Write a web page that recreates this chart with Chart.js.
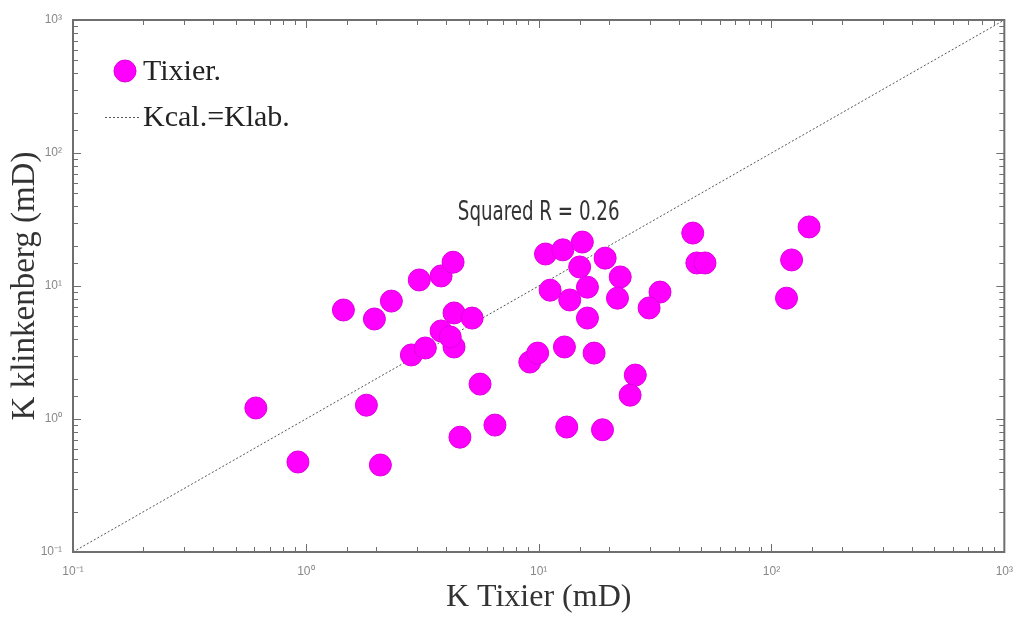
<!DOCTYPE html>
<html>
<head>
<meta charset="utf-8">
<script src="https://cdn.jsdelivr.net/npm/chart.js"></script>
<style>
  html, body { margin: 0; background: #fff; }
  #wrap { width: 1017px; height: 619px; }
</style>
</head>
<body>
<div id="wrap"><canvas id="scatter"></canvas></div>
<script>
// values (mD)
var kTixier = [1.45, 1.97, 2.33, 3.07, 3.81, 4.29, 2.84, 3.26, 3.81, 4.33, 5.18, 4.33, 4.17,
  0.61, 1.82, 0.925, 2.09, 5.6, 4.59, 6.49, 9.16, 9.9, 10.7, 11.2, 12.7, 15.4, 15.0, 19.3,
  22.4, 13.6, 16.2, 21.8, 16.2, 33.2, 29.8, 12.9, 17.3, 26.0, 24.7, 13.2, 18.8, 45.9, 47.8,
  51.8, 145, 122, 116];
var kKlinkenberg = [6.6, 5.65, 7.7, 11.1, 11.9, 15.1, 3.03, 3.42, 4.59, 6.27, 5.74, 3.48, 4.14,
  1.21, 1.27, 0.475, 0.451, 1.83, 0.73, 0.90, 2.68, 3.13, 17.4, 9.3, 18.7, 21.4, 13.9, 16.2,
  11.7, 7.85, 9.8, 8.1, 5.74, 9.0, 6.84, 3.48, 3.13, 2.14, 1.51, 0.87, 0.83, 25.0, 14.9,
  14.9, 27.8, 15.7, 8.1];
var lineEnds = [0.1, 1000];
var tickValues = [0.1, 1, 10, 100, 1000];
var tickLabels = ["10\u207B\u00B9", "10\u2070", "10\u00B9", "10\u00B2", "10\u00B3"];
var seriesNames = ["Tixier.", "Kcal.=Klab."];
var rText = "Squared R = 0.26";
var rAt = [10, 35];

var points = kTixier.map(function (v, i) { return { x: v, y: kKlinkenberg[i] }; });
var diag = lineEnds.map(function (v) { return { x: v, y: v }; });

function tickLabel(v) {
  for (var i = 0; i < tickValues.length; i++) {
    if (Math.abs(v - tickValues[i]) < tickValues[i] * 1e-6) return tickLabels[i];
  }
  return "";
}

// frame with inward ticks, legend and the R² note
var decor = {
  id: "decor",
  afterDraw: function (chart) {
    var ctx = chart.ctx, a = chart.chartArea;
    var xs = chart.scales.x, ys = chart.scales.y;
    ctx.save();
    ctx.strokeStyle = "#6f6f6f";
    ctx.lineWidth = 2;
    ctx.strokeRect(a.left, a.top, a.right - a.left, a.bottom - a.top);
    ctx.lineWidth = 1;
    ctx.beginPath();
    xs.ticks.forEach(function (t) {
      var p = Math.round(xs.getPixelForValue(t.value)) + 0.5;
      var len = tickLabel(t.value) ? 8 : 5;
      ctx.moveTo(p, a.bottom); ctx.lineTo(p, a.bottom - len);
      ctx.moveTo(p, a.top); ctx.lineTo(p, a.top + len);
    });
    ys.ticks.forEach(function (t) {
      var p = Math.round(ys.getPixelForValue(t.value)) + 0.5;
      var len = tickLabel(t.value) ? 8 : 5;
      ctx.moveTo(a.left, p); ctx.lineTo(a.left + len, p);
      ctx.moveTo(a.right, p); ctx.lineTo(a.right - len, p);
    });
    ctx.stroke();

    // legend
    ctx.fillStyle = "#ff00ff";
    ctx.strokeStyle = "#dd00dd";
    ctx.beginPath();
    ctx.arc(125, 71, 11, 0, Math.PI * 2);
    ctx.fill(); ctx.stroke();
    ctx.strokeStyle = "#555";
    ctx.setLineDash([2, 2]);
    ctx.beginPath();
    ctx.moveTo(105, 117.5); ctx.lineTo(141, 117.5);
    ctx.stroke();
    ctx.setLineDash([]);
    ctx.fillStyle = "#222";
    ctx.font = "30px 'Liberation Serif'";
    ctx.textBaseline = "middle";
    ctx.fillText(seriesNames[0], 143, 72);
    ctx.fillText(seriesNames[1], 143, 118);

    // squared R note, narrow and tall like the original
    ctx.fillStyle = "#333";
    ctx.textAlign = "center";
    ctx.font = "26px 'DejaVu Sans Condensed', 'DejaVu Sans'";
    ctx.translate(xs.getPixelForValue(rAt[0]), ys.getPixelForValue(rAt[1]));
    ctx.scale(0.78, 1);
    ctx.fillText(rText, 0, 0);
    ctx.restore();
  }
};

new Chart("scatter", {
  type: "scatter",
  data: {
    datasets: [{
      label: seriesNames[0],
      data: points,
      backgroundColor: "#ff00ff",
      borderColor: "#e000e0",
      borderWidth: 1,
      pointRadius: 11,
      pointHoverRadius: 11
    }, {
      type: "line",
      label: seriesNames[1],
      data: diag,
      borderColor: "#555",
      borderWidth: 1,
      borderDash: [2, 2],
      pointRadius: 0,
      fill: false
    }]
  },
  options: {
    responsive: true,
    maintainAspectRatio: false,
    animation: false,
    layout: { padding: { top: 20, right: 0 } },
    plugins: {
      legend: { display: false },
      tooltip: { enabled: false }
    },
    scales: {
      x: {
        type: "logarithmic",
        min: 0.1,
        max: 1000,
        grid: { display: false },
        border: { display: false },
        ticks: {
          autoSkip: false,
          maxRotation: 0,
          padding: 4,
          color: "#888",
          font: { size: 12 },
          callback: function (v) { return tickLabel(v); }
        },
        title: {
          display: true,
          text: "K Tixier (mD)",
          color: "#333",
          font: { family: "'Liberation Serif'", size: 32 },
          padding: { top: 0, bottom: 2 }
        },
        afterFit: function (s) { s.height = 67; }
      },
      y: {
        type: "logarithmic",
        min: 0.1,
        max: 1000,
        grid: { display: false },
        border: { display: false },
        ticks: {
          autoSkip: false,
          padding: 3,
          color: "#888",
          font: { size: 12 },
          callback: function (v) { return tickLabel(v); }
        },
        title: {
          display: true,
          text: "K klinkenberg (mD)",
          color: "#333",
          font: { family: "'Liberation Serif'", size: 33 },
          padding: { top: 6, bottom: 0 }
        },
        afterFit: function (s) { s.width = 73; }
      }
    }
  },
  plugins: [decor]
});
</script>
</body>
</html>
